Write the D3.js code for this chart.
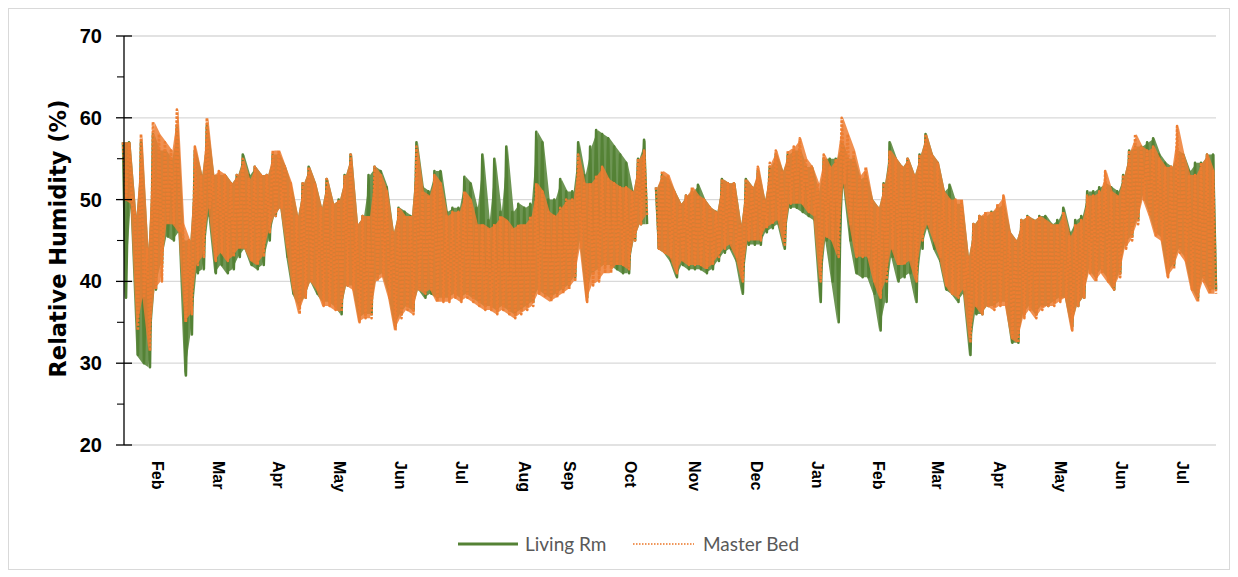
<!DOCTYPE html>
<html><head><meta charset="utf-8">
<script src="https://cdn.jsdelivr.net/npm/d3@7"></script>
<style>body{margin:0;background:#fff}</style>
</head><body><svg id="c" width="1238" height="577"></svg>
<script>
// ---------------- DATA ----------------
const yTicks = [20, 30, 40, 50, 60, 70];
const yMinorTicks = [25, 35, 45, 55, 65];
const monthLabels = ["Feb","Mar","Apr","May","Jun","Jul","Aug","Sep","Oct","Nov","Dec","Jan","Feb","Mar","Apr","May","Jun","Jul"];
// position of each month label along the sample index
const monthTickIndex = [5.7,15.9,25.9,36.1,46.4,56.6,67.0,74.5,84.8,95.5,105.8,116.0,126.2,136.1,146.3,156.6,166.8,177.0];

// Master Bed: daily high / low readings (%RH), one pair per sample
const masterMax = [57,57,48,58,44,59.5,58,57,56,61,47,45,56.5,53,60,53,53.5,53,52,53,55,52.5,54,53,53,56,56,54,52,48,52,54,
 52,49,52.5,49.5,50,53,55.5,47,48,48,54,53,51,46,49,48,48,56.5,51,50.5,53,52,48,
 48.5,48.5,51,50,47,47,46.5,47,48,47.5,46.5,47,47,48,52,51,48.5,48,49,50,50,55.5,52,52,53,54,52.5,52,51.5,51.5,51,55,56,
 null,51.5,53.5,53,51,49.5,50.5,51.5,50.5,50,49,48.5,52.5,52,52,47,52.5,51.5,54,50,54.5,56,53.5,56,56.5,57.5,55,54,52,55.5,54,55,
 60,58,56,53,54,50,49,52,56,55,54,55,53,55.5,58,55.5,54.5,51,50,50,50,43,47,48,48.5,48.5,49.5,50.5,46,45,47.5,48,47.5,48,47.5,
 47,47,48.5,45.5,47,47.5,50.5,50.5,51,53.5,51,50.5,53,56,58,56.5,56,56.5,55,54,54,59,55.5,53,53,54.5,55.5,53.5];
const masterMin = [50,49.5,34,38,31.5,39,40,47,47,46,35,36,42,43,49,42.5,43.5,42.5,43,44,44,42.5,42,43,46,48,49,44,39,36,38,40,
 39,37,37,36.5,36.3,39.5,39,35,35.5,35.5,40,40.5,38,34,35.5,36.5,36,39,38.5,39,37.5,37.5,37.5,
 38,37.5,38,37.5,37,36.5,36.5,36,36.5,36,35.5,36,36.5,37,38.5,38,37.5,38,38.5,39,40,44,37.5,39.5,40,41,41,42,42,41.5,45,47,48,
 null,44,43.5,43,41,42.5,42,42,42,41.5,42,43,44,44.5,43,40,45,45,45,46.5,47,47.5,44.5,49.5,49.5,49.5,48.5,48,40,45.5,45,43,
 52,47,43,43,43,40,38,40,44,42,42,42.5,40,45,47,45,43,39.5,38.5,38,39,32.5,37,36,37,36.5,37,37,33,32.5,35.5,36.5,35.5,36.5,37,
 37,37.5,38,34,37,38,41,40,41,40,39,40.5,44,45,47,50,48,45.5,45,40.5,41.5,43.5,42.5,39,37.5,40,38.5,38.5];

// Living Rm: daily high / low readings (%RH)
const livingMax = [57,57,48,57,44,58,56,56,55,59,45,45,56,53,59,53,53,53,52,53,55.5,53,54,53,53,55.5,55.5,54,51.5,48,52,54,
 52,49,52.5,49.5,50,53,55.5,47,48,53,54,53.5,51.5,46,49,48.5,48,57,51.5,51,53.5,53.5,48.5,
 49,49,52.8,52,49,55.5,47.5,55,48.5,56.5,48.5,49.5,49,49.5,58.3,57,50,50,52.5,51,51,57,53,56.5,58.5,58,57.5,56.5,55.5,54.5,51,55,57.3,
 null,51.5,53,52.5,51,49.5,50.5,51,51.8,50,49,48.5,52.5,52,52,47,52.5,51.5,53.5,50,54,55.5,53.5,55.5,56,56,54,54,51,55,55,55,
 57,55,55,52.5,53,50,49,52,57,55,54,55,53,55.5,58,55.5,54.5,51,51.8,49.5,49.5,43,47,48,48,48.5,49,49.5,46,45,47.5,48,47.5,48,48,
 47,47.5,49,46,47.5,48,51,51,51.5,52,51.5,51,53,56,56.5,56.5,57,57.5,55.5,54.5,54,56,55.5,53.5,54.5,54.5,55.5,55.5];
const livingMin = [38,49,31,30,29.5,39,42,45.5,45,46,28.5,33.5,41,41.5,48,41,42,41,41.5,43,44,42,41.5,42,45,48,49,43,38.5,37,38,40,
 38.5,37.5,37.5,37,36,39.5,39.5,35.5,36,36,40.5,41,38.5,34.5,36,37,36.5,39,38,38.5,38,38,38,
 38.5,38,38.5,38,37.5,37,37,36.5,37,36.5,36,36.5,37,37.5,39,38.5,38,38.5,39,39.5,40.5,45,38,41,41.5,42,42,41.5,41,41,45,47,47,
 null,44,43.5,42.5,40.5,42,41.5,41.5,41.5,41,41.5,42.5,43.5,44,42.5,38.5,44.5,44.5,44.5,46,46.5,47,44,49,49,48.5,48,47.5,37.5,45,40,35,
 51.5,45,41,40.5,40.5,38.5,34,37.5,43,40,40.5,41,37.5,44,46.5,44,42.5,39,38.5,37.5,38.5,31,36,36,37,37,37.5,37.5,32.5,32.5,36,37,36,37,37,
 37.5,38,38,34.5,37,38,41.5,40.5,41.5,40.5,39,41,44.5,45.5,47.5,50.5,48.5,46,45.5,41,42,44,43,39.5,38,40.5,39,39];

// ---------------- CHART ----------------
const svg = d3.select('#c');
svg.append('rect').attr('x', 8.5).attr('y', 8.5).attr('width', 1221).attr('height', 561)
  .attr('fill', '#fff').attr('stroke', '#D9D9D9').attr('stroke-width', 1);

const x = d3.scaleLinear().domain([0, masterMax.length - 0.5]).range([123, 1216]);
const y = d3.scaleLinear().domain([20, 70]).range([445, 36]);
const plotL = 124, plotR = 1216;

// gridlines
svg.append('g').selectAll('line').data(yTicks).join('line')
  .attr('x1', plotL).attr('x2', plotR)
  .attr('y1', d => y(d)).attr('y2', d => y(d))
  .attr('stroke', '#D9D9D9').attr('stroke-width', 1.3);

// series (high/low readings alternate)
function seriesPoints(mx, mn) {
  const p = [];
  mx.forEach((v, i) => { p.push([i, v]); p.push([i + 0.5, mn[i]]); });
  return p;
}
function bandPoints(mx, mn) { return mx.map((v, i) => [i + 0.25, v, mn[i]]); }
const line = d3.line().defined(d => d[1] != null).x(d => x(d[0])).y(d => y(d[1]));
const area = d3.area().defined(d => d[1] != null).x(d => x(d[0])).y0(d => y(d[2])).y1(d => y(d[1]));

const GREEN = '#548235', ORANGE = '#ED7D31';
svg.append('path').datum(bandPoints(livingMax, livingMin)).attr('d', area)
  .attr('fill', GREEN).attr('opacity', 0.85);
svg.append('path').datum(seriesPoints(livingMax, livingMin)).attr('d', line)
  .attr('fill', 'none').attr('stroke', GREEN).attr('stroke-width', 2.6)
  .attr('stroke-linejoin', 'round');
svg.append('path').datum(bandPoints(masterMax, masterMin)).attr('d', area)
  .attr('fill', ORANGE).attr('opacity', 0.85);
svg.append('path').datum(seriesPoints(masterMax, masterMin)).attr('d', line)
  .attr('fill', 'none').attr('stroke', ORANGE).attr('stroke-width', 2.6)
  .attr('stroke-dasharray', '2.5 1.5').attr('stroke-linejoin', 'round');

// y axis
const yAxisG = svg.append('g').attr('transform', `translate(${plotL},0)`);
yAxisG.call(d3.axisLeft(y).tickValues(yTicks).tickSize(0).tickPadding(22))
  .call(g => g.select('.domain').remove());
yAxisG.selectAll('.tick text').attr('font-family', 'Liberation Sans, Arial, sans-serif')
  .attr('font-weight', 'bold').attr('font-size', 20).attr('fill', '#000');
svg.append('line').attr('x1', plotL).attr('x2', plotL).attr('y1', y(70)).attr('y2', y(20))
  .attr('stroke', '#000').attr('stroke-width', 1.3);
svg.append('g').selectAll('line').data(yTicks).join('line')
  .attr('x1', plotL - 8).attr('x2', plotL + 8).attr('y1', d => y(d)).attr('y2', d => y(d))
  .attr('stroke', '#000').attr('stroke-width', 1.3);
svg.append('g').selectAll('line').data(yMinorTicks).join('line')
  .attr('x1', plotL - 7).attr('x2', plotL).attr('y1', d => y(d)).attr('y2', d => y(d))
  .attr('stroke', '#000').attr('stroke-width', 1.1);

svg.append('text').attr('transform', `translate(58,238.5) rotate(-90)`)
  .attr('text-anchor', 'middle').attr('dy', '0.35em')
  .attr('font-family', 'DejaVu Sans, Verdana, sans-serif').attr('font-weight', 'bold')
  .attr('font-size', 22.5).text('Relative Humidity (%)');

// month labels
svg.append('g').selectAll('text').data(monthLabels).join('text')
  .attr('transform', (d, i) => `translate(${x(monthTickIndex[i])},461) rotate(90)`)
  .attr('dy', '0.35em').attr('text-anchor', 'start')
  .attr('font-family', 'Liberation Sans, Arial, sans-serif').attr('font-weight', 'bold')
  .attr('font-size', 16).attr('fill', '#000').text(d => d);

// legend
const lg = svg.append('g');
lg.append('line').attr('x1', 458).attr('x2', 518).attr('y1', 544).attr('y2', 544)
  .attr('stroke', GREEN).attr('stroke-width', 3);
lg.append('text').attr('x', 525).attr('y', 551).attr('font-family', 'Lato, sans-serif')
  .attr('font-size', 19).attr('fill', '#595959').text('Living Rm');
lg.append('line').attr('x1', 633).attr('x2', 694).attr('y1', 544).attr('y2', 544)
  .attr('stroke', ORANGE).attr('stroke-width', 2).attr('stroke-dasharray', '1.5 1.5').attr('opacity', 0.8);
lg.append('text').attr('x', 703).attr('y', 551).attr('font-family', 'Lato, sans-serif')
  .attr('font-size', 19).attr('fill', '#595959').text('Master Bed');
</script></body></html>
